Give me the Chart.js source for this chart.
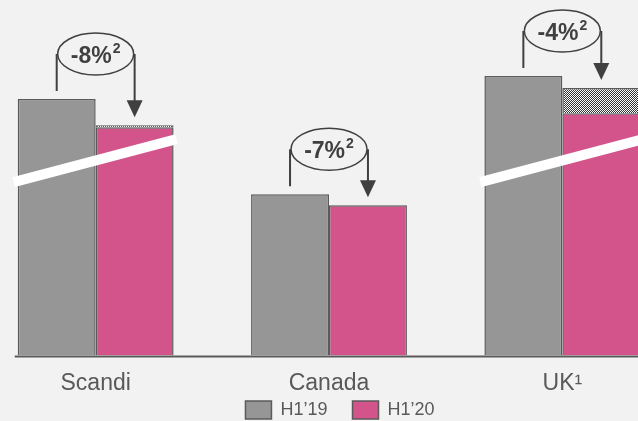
<!DOCTYPE html>
<html>
<head>
<meta charset="utf-8">
<script src="https://cdn.jsdelivr.net/npm/chart.js@4.4.0/dist/chart.umd.min.js"></script>
<style>
  html, body { margin: 0; padding: 0; background: #f2f2f2; overflow: hidden; }
  body { width: 638px; height: 421px; position: relative; }
  #wrap { position: absolute; left: -21px; top: 0; width: 724px; height: 456px; }
</style>
</head>
<body>
<div id="wrap"><canvas id="chart"></canvas></div>
<script>
// values (index units, same scale for all bars)
const regions = ['Scandi', 'Canada', 'UK¹'];
const seriesLabels = ['H1’19', 'H1’20'];
const h119 = [256, 161, 279];
const h120 = [228, 150, 242];
const h120Hatched = [2, null, 25];
const changes = ['-8%', '-7%', '-4%'];
const changeNote = '2';
// where the axis-break stripe crosses each group (left edge, right edge)
const breakLeft = [173, null, 173];
const breakRight = [216, null, 216];

const FONT = '"Liberation Sans", Arial, sans-serif';
const GREY = '#969696';
const PINK = '#d3538b';
const EDGE = '#5a5a5a';
const INK = '#404040';

function checkerPattern() {
    const c = document.createElement('canvas');
    c.width = 2;
    c.height = 2;
    const g = c.getContext('2d');
    g.fillStyle = '#ffffff';
    g.fillRect(0, 0, 2, 2);
    g.fillStyle = '#333333';
    g.fillRect(0, 0, 1, 1);
    g.fillRect(1, 1, 1, 1);
    return g.createPattern(c, 'repeat');
}

// pull the legend up closer to the category labels, a bit to the right
const legendNudge = {
    id: 'legendNudge',
    afterLayout(chart) {
        const l = chart.legend;
        l.top -= 27;
        l.bottom -= 27;
        l.left += 11;
        l.right += 11;
    }
};

const callouts = {
    id: 'callouts',
    afterDatasetsDraw(chart) {
        const { ctx, chartArea, scales: { y } } = chart;
        const grey = chart.getDatasetMeta(0).data;
        const pink = chart.getDatasetMeta(1).data;
        const hatch = chart.getDatasetMeta(2).data;
        ctx.save();

        // axis break stripes
        ctx.strokeStyle = '#ffffff';
        ctx.lineWidth = 10;
        ctx.lineCap = 'butt';
        regions.forEach((r, i) => {
            if (breakLeft[i] == null) return;
            const x0 = grey[i].x - grey[i].width / 2 - 4;
            const x1 = pink[i].x + pink[i].width / 2 + 3;
            ctx.beginPath();
            ctx.moveTo(x0, y.getPixelForValue(breakLeft[i]));
            ctx.lineTo(x1, y.getPixelForValue(breakRight[i]));
            ctx.stroke();
        });

        // baseline
        const base = y.getPixelForValue(0) + 1;
        ctx.strokeStyle = EDGE;
        ctx.lineWidth = 2;
        ctx.beginPath();
        ctx.moveTo(grey[0].x - grey[0].width / 2 - 3, base);
        ctx.lineTo(chartArea.right, base);
        ctx.stroke();

        // change callouts
        regions.forEach((r, i) => {
            const gx = grey[i].x, gy = grey[i].y;
            const px = pink[i].x;
            const py = h120Hatched[i] ? hatch[i].y : pink[i].y;
            const cx = (gx + px) / 2, cy = gy - 45;

            ctx.strokeStyle = INK;
            ctx.fillStyle = INK;
            ctx.lineWidth = 2;
            ctx.beginPath();
            ctx.moveTo(gx, cy);
            ctx.lineTo(gx, gy - 8);
            ctx.moveTo(px, cy);
            ctx.lineTo(px, py - 24);
            ctx.stroke();

            ctx.beginPath();
            ctx.moveTo(px - 8, py - 25);
            ctx.lineTo(px + 8, py - 25);
            ctx.lineTo(px, py - 8);
            ctx.closePath();
            ctx.fill();

            ctx.beginPath();
            ctx.ellipse(cx, cy, 38, 21, 0, 0, Math.PI * 2);
            ctx.fillStyle = '#f2f2f2';
            ctx.fill();
            ctx.lineWidth = 1.5;
            ctx.stroke();

            ctx.fillStyle = INK;
            ctx.textBaseline = 'alphabetic';
            ctx.textAlign = 'left';
            ctx.font = 'bold 23px ' + FONT;
            const w1 = ctx.measureText(changes[i]).width;
            ctx.font = 'bold 14px ' + FONT;
            const w2 = ctx.measureText(changeNote).width;
            const tx = cx - (w1 + w2 + 1) / 2;
            ctx.font = 'bold 23px ' + FONT;
            ctx.fillText(changes[i], tx, cy + 9);
            ctx.font = 'bold 14px ' + FONT;
            ctx.fillText(changeNote, tx + w1 + 1, cy - 1);
        });
        ctx.restore();
    }
};

const barStyle = {
    borderColor: EDGE,
    borderWidth: 1.5,
    categoryPercentage: 0.668,
    barPercentage: 1
};

new Chart(document.getElementById('chart'), {
    type: 'bar',
    data: {
        labels: regions,
        datasets: [
            { label: seriesLabels[0], data: h119, backgroundColor: GREY, stack: 'a', ...barStyle },
            { label: seriesLabels[1], data: h120, backgroundColor: PINK, stack: 'b', ...barStyle },
            { label: 'hatched', data: h120Hatched, backgroundColor: checkerPattern(), stack: 'b', ...barStyle }
        ]
    },
    options: {
        responsive: true,
        maintainAspectRatio: false,
        animation: false,
        devicePixelRatio: 1,
        layout: { padding: { left: 0, right: 24, top: 0, bottom: 0 } },
        scales: {
            x: {
                stacked: true,
                grid: { display: false },
                border: { display: false },
                ticks: { color: '#595959', font: { family: FONT, size: 23 }, padding: 6 }
            },
            y: {
                stacked: true,
                display: false,
                min: 0,
                max: 355
            }
        },
        plugins: {
            legend: {
                position: 'bottom',
                labels: {
                    color: '#595959',
                    font: { family: FONT, size: 18 },
                    boxWidth: 26,
                    boxHeight: 18,
                    padding: 25,
                    filter: item => item.datasetIndex < 2
                }
            },
            tooltip: { enabled: false }
        }
    },
    plugins: [legendNudge, callouts]
});
</script>
</body>
</html>
